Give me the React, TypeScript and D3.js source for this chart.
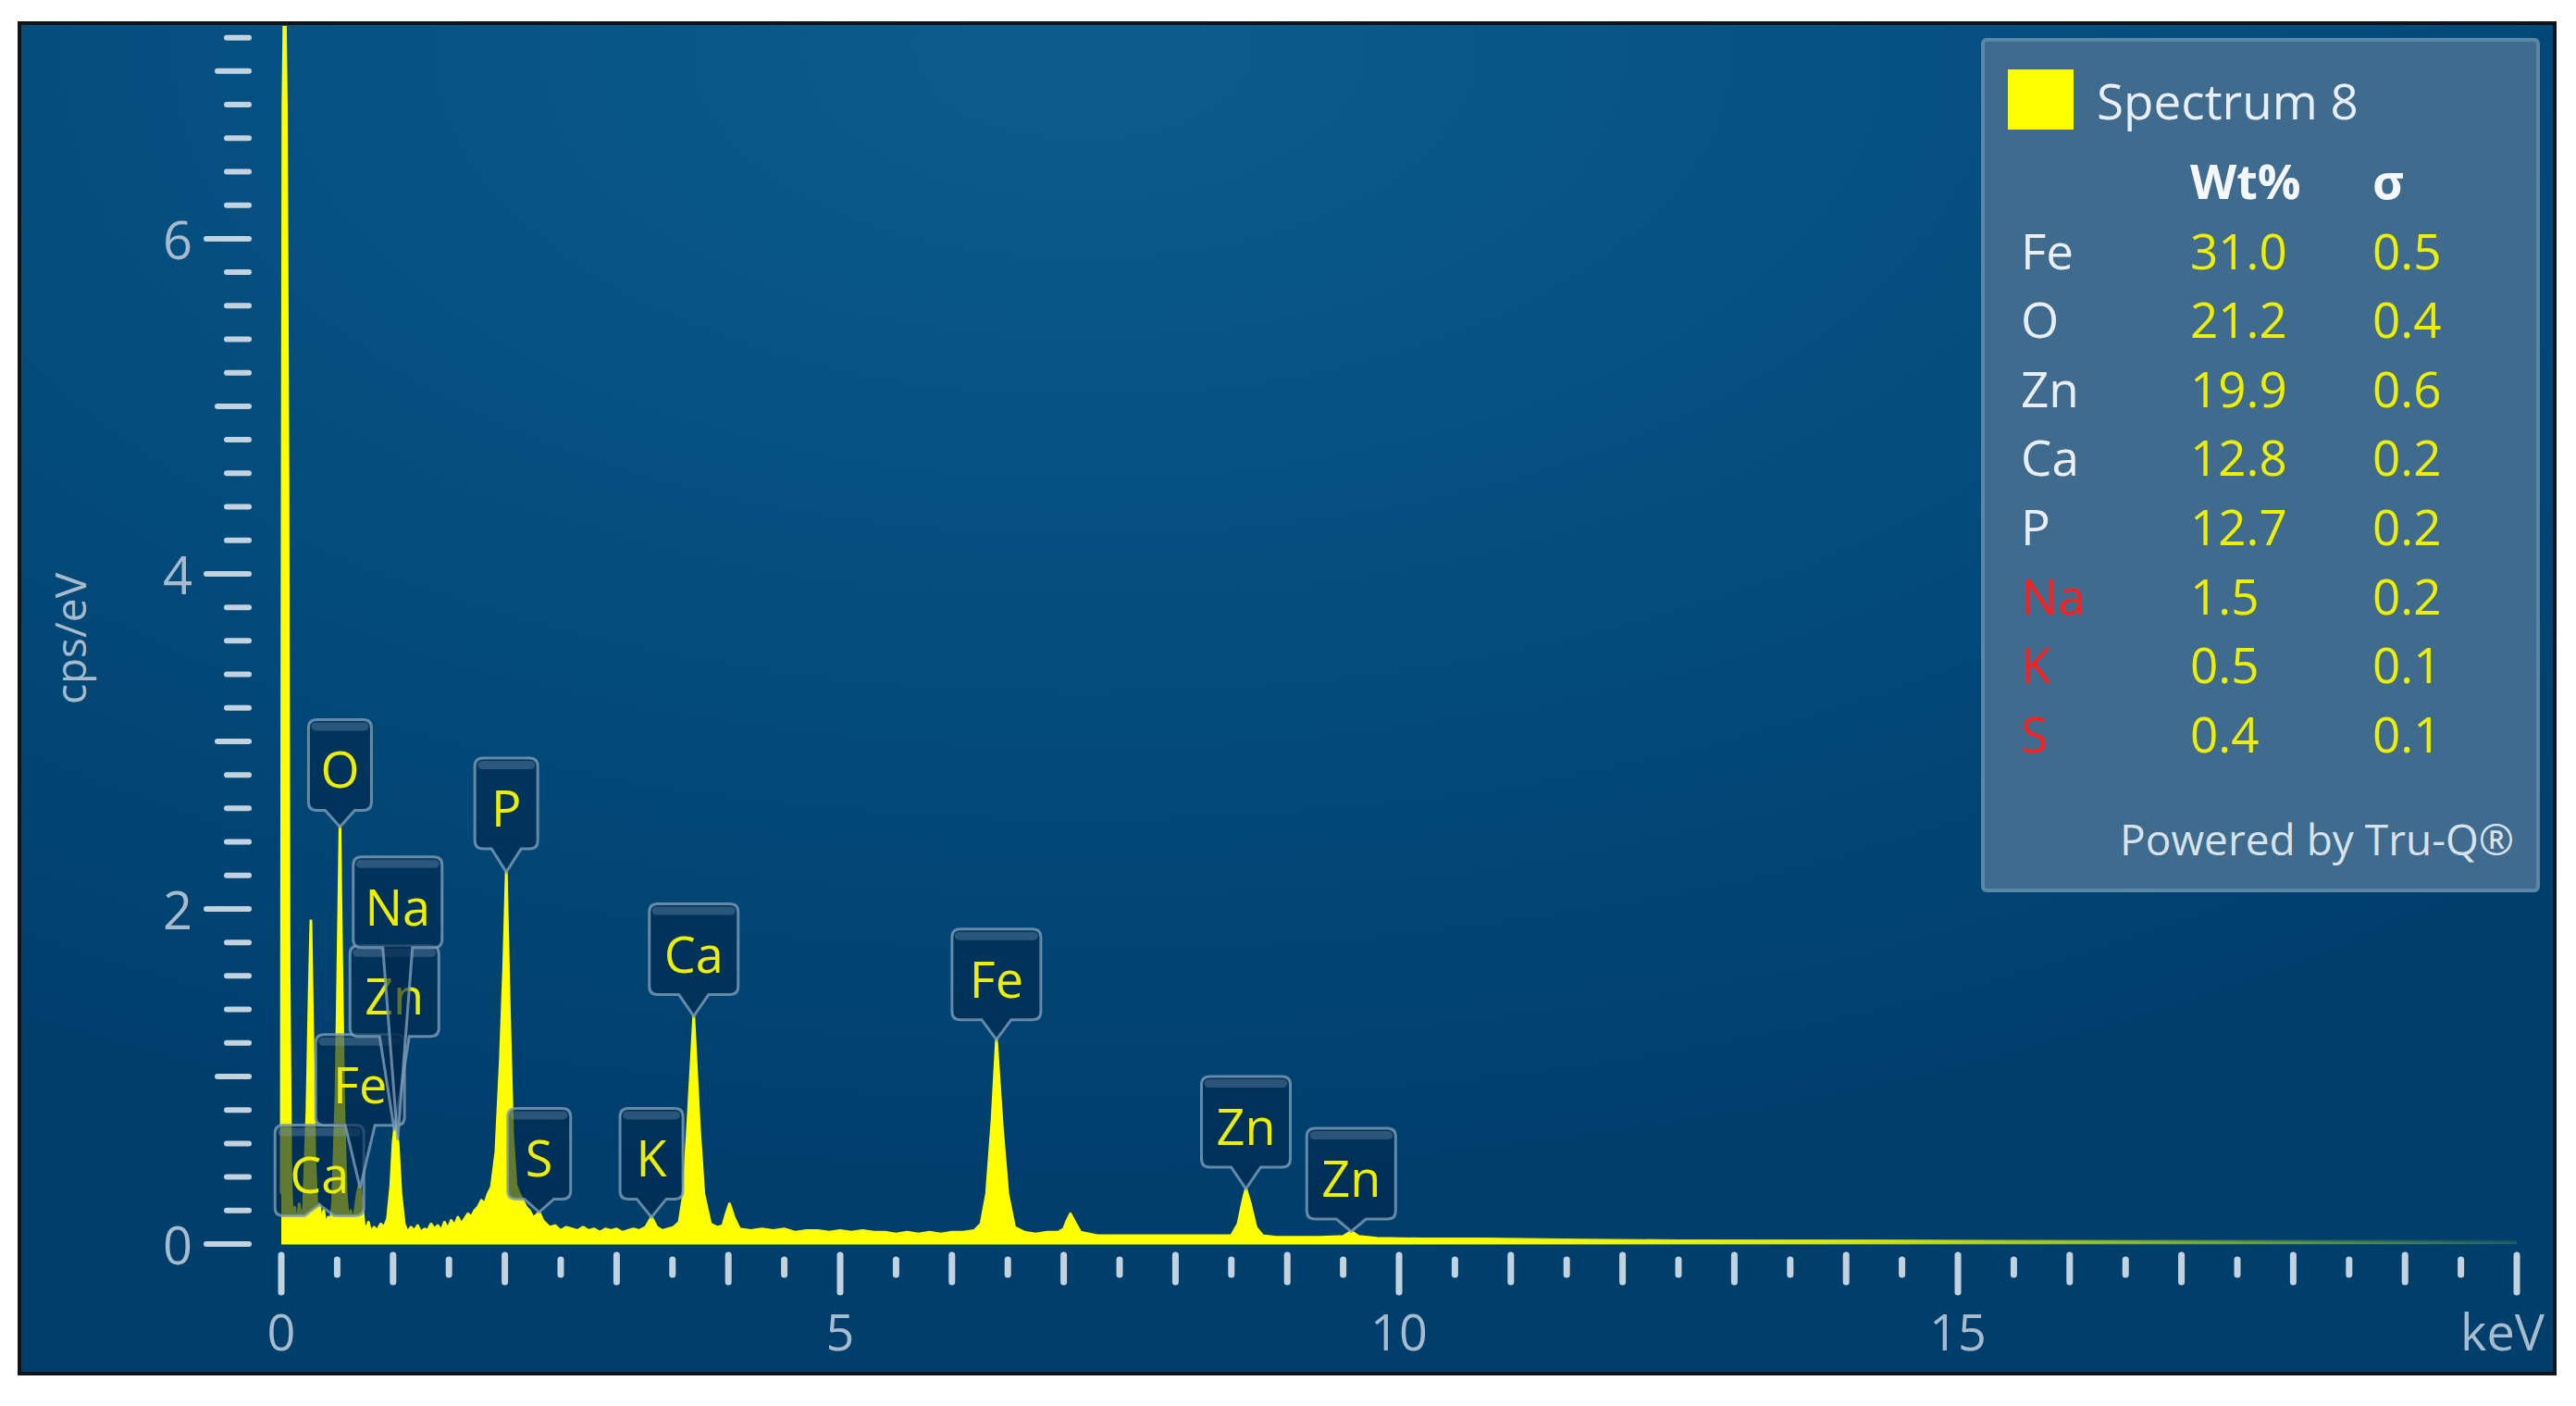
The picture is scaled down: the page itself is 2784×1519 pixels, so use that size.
import React from 'react';
import * as d3 from 'd3';

// EDS spectrum: [keV, cps/eV]
const spectrum: [number, number][] = [
  [0.0, 0.3], [0.005, 3.0], [0.015, 6.8], [0.03, 7.6], [0.045, 6.8], [0.06, 4.5], [0.07, 1.6], [0.085, 0.4],
  [0.1, 0.12], [0.12, 0.22], [0.14, 0.1], [0.16, 0.24], [0.18, 0.14],
  [0.2, 0.22], [0.23, 0.8], [0.25, 1.5], [0.265, 1.93], [0.28, 1.3], [0.3, 0.5], [0.32, 0.2],
  [0.34, 0.24], [0.36, 0.12], [0.38, 0.2], [0.4, 0.1], [0.42, 0.16], [0.44, 0.12],
  [0.46, 0.25], [0.49, 0.9], [0.51, 1.8], [0.525, 2.49], [0.54, 1.7], [0.56, 0.8], [0.58, 0.3],
  [0.6, 0.14], [0.62, 0.2], [0.64, 0.12], [0.66, 0.2], [0.68, 0.3], [0.7, 0.36], [0.72, 0.26],
  [0.74, 0.12], [0.76, 0.08], [0.78, 0.13], [0.8, 0.07], [0.83, 0.1], [0.86, 0.08], [0.89, 0.12], [0.92, 0.1],
  [0.95, 0.15], [0.98, 0.35], [1.0, 0.6], [1.02, 0.73], [1.045, 0.6], [1.07, 0.3], [1.1, 0.12],
  [1.13, 0.07], [1.16, 0.1], [1.19, 0.08], [1.22, 0.11], [1.25, 0.07], [1.28, 0.09], [1.31, 0.08],
  [1.34, 0.12], [1.37, 0.09], [1.4, 0.11], [1.43, 0.08], [1.46, 0.13], [1.49, 0.09], [1.52, 0.14],
  [1.55, 0.11], [1.58, 0.16], [1.61, 0.12], [1.64, 0.15], [1.67, 0.18], [1.7, 0.16], [1.73, 0.2],
  [1.76, 0.22], [1.79, 0.26], [1.82, 0.24], [1.85, 0.3], [1.88, 0.34],
  [1.92, 0.55], [1.96, 1.1], [1.99, 1.65], [2.013, 2.22], [2.04, 1.4], [2.07, 0.65], [2.1, 0.35],
  [2.13, 0.3], [2.16, 0.26], [2.19, 0.22], [2.22, 0.2], [2.25, 0.16], [2.28, 0.17], [2.307, 0.19],
  [2.34, 0.14], [2.37, 0.12], [2.4, 0.1], [2.45, 0.11], [2.5, 0.08], [2.55, 0.1], [2.6, 0.09],
  [2.65, 0.08], [2.7, 0.1], [2.75, 0.08], [2.8, 0.09], [2.85, 0.07], [2.9, 0.09], [2.95, 0.08],
  [3.0, 0.09], [3.05, 0.07], [3.1, 0.08], [3.15, 0.09], [3.2, 0.08],
  [3.26, 0.1], [3.312, 0.16], [3.36, 0.1], [3.41, 0.08], [3.46, 0.09], [3.51, 0.1],
  [3.56, 0.13], [3.6, 0.3], [3.64, 0.75], [3.69, 1.36], [3.74, 0.7], [3.78, 0.3], [3.84, 0.12], [3.9, 0.1],
  [3.95, 0.11], [3.98, 0.18], [4.01, 0.24], [4.05, 0.16], [4.1, 0.09],
  [4.2, 0.08], [4.3, 0.09], [4.4, 0.08], [4.5, 0.09], [4.6, 0.07], [4.7, 0.08], [4.8, 0.08], [4.9, 0.07],
  [5.0, 0.08], [5.1, 0.07], [5.2, 0.08], [5.3, 0.07], [5.4, 0.07], [5.5, 0.06], [5.6, 0.07], [5.7, 0.06],
  [5.8, 0.07], [5.9, 0.06], [6.0, 0.07], [6.1, 0.07], [6.2, 0.08],
  [6.26, 0.12], [6.31, 0.3], [6.36, 0.75], [6.398, 1.22], [6.45, 0.7], [6.5, 0.3], [6.56, 0.1],
  [6.65, 0.07], [6.75, 0.06], [6.85, 0.07], [6.95, 0.07],
  [7.0, 0.09], [7.03, 0.14], [7.06, 0.18], [7.1, 0.13], [7.15, 0.07],
  [7.3, 0.05], [7.5, 0.05], [7.7, 0.05], [7.9, 0.05], [8.1, 0.05], [8.3, 0.05],
  [8.5, 0.05], [8.56, 0.12], [8.6, 0.25], [8.63, 0.33], [8.67, 0.24], [8.72, 0.1], [8.78, 0.05],
  [8.9, 0.04], [9.1, 0.04], [9.3, 0.04],
  [9.5, 0.045], [9.572, 0.075], [9.64, 0.045],
  [9.8, 0.035], [10.2, 0.03], [10.8, 0.03], [11.5, 0.025], [12.5, 0.02], [14, 0.02], [15.5, 0.015],
  [17, 0.012], [18.5, 0.01], [20, 0.008],
];

// peak markers: element, line energy (keV), height of label top (cps/eV)
const peakElements = ['O', 'Ca', 'Fe', 'Zn', 'Na', 'P', 'S', 'K', 'Ca', 'Fe', 'Zn', 'Zn'];
const peakEnergies = [0.525, 0.341, 0.705, 1.012, 1.041, 2.013, 2.307, 3.312, 3.69, 6.398, 8.63, 9.572];
const peakLabelTops = [3.13, 0.71, 1.25, 1.78, 2.31, 2.9, 0.81, 0.81, 2.03, 1.88, 1.0, 0.69];

// quant table
const quantElements = ['Fe', 'O', 'Zn', 'Ca', 'P', 'Na', 'K', 'S'];
const quantWt = ['31.0', '21.2', '19.9', '12.8', '12.7', '1.5', '0.5', '0.4'];
const quantSigma = ['0.5', '0.4', '0.6', '0.2', '0.2', '0.2', '0.1', '0.1'];
const quantFlagged = [false, false, false, false, false, true, true, true];

const xTickLabels = [0, 5, 10, 15];
const yTickLabels = [0, 2, 4, 6];

const W = 2784;
const H = 1519;
const FONT = '"Open Sans", "Noto Sans", sans-serif';
const AXIS_TEXT = '#a6bbce';
const TICK = '#c3d2df';

const x = d3.scaleLinear().domain([0, 20]).range([304, 2720]);
const y = d3.scaleLinear().domain([0, 7.27]).range([1344, 28]);

const bis = d3.bisector((d: [number, number]) => d[0]).left;
const valueAt = (e: number) => {
  const i = bis(spectrum, e);
  if (i <= 0) return spectrum[0][1];
  if (i >= spectrum.length) return spectrum[spectrum.length - 1][1];
  const [x0, y0] = spectrum[i - 1];
  const [x1, y1] = spectrum[i];
  return y0 + ((e - x0) / (x1 - x0)) * (y1 - y0);
};

const labelPath = (cx: number, top: number, w: number, h: number, tx: number, ty: number) => {
  const r = 9;
  const l = cx - w / 2;
  const rt = cx + w / 2;
  const b = top + h;
  const pw = 16;
  return `M${l + r},${top} H${rt - r} Q${rt},${top} ${rt},${top + r} V${b - r} Q${rt},${b} ${rt - r},${b}
    H${cx + pw} L${tx},${ty} L${cx - pw},${b} H${l + r} Q${l},${b} ${l},${b - r} V${top + r} Q${l},${top} ${l + r},${top} Z`;
};

export default function App() {
  const area = d3.area<[number, number]>()
    .x((d) => x(d[0]))
    .y0(y(0))
    .y1((d) => y(d[1]));
  const line = d3.line<[number, number]>()
    .x((d) => x(d[0]))
    .y((d) => y(d[1]));

  const yTicks = d3.ticks(0, 7.2, 36);
  const xTicks = d3.ticks(0, 20, 40);

  return (
    <svg width={W} height={H} style={{ position: 'absolute', left: 0, top: 0, background: '#fff' }} fontFamily={FONT}>
      <defs>
        <radialGradient id="bg" cx="0.42" cy="0.02" r="0.85" gradientUnits="objectBoundingBox">
          <stop offset="0" stopColor="#0b5c8d" />
          <stop offset="0.55" stopColor="#034c7c" />
          <stop offset="1" stopColor="#003e6c" />
        </radialGradient>
        <linearGradient id="tail" gradientUnits="userSpaceOnUse" x1={x(0)} x2={x(20)} y1="0" y2="0">
          <stop offset="0" stopColor="#ffff00" stopOpacity="1" />
          <stop offset="0.5" stopColor="#ffff00" stopOpacity="1" />
          <stop offset="0.7" stopColor="#e6f000" stopOpacity="0.7" />
          <stop offset="0.88" stopColor="#9fcf20" stopOpacity="0.35" />
          <stop offset="1" stopColor="#80c040" stopOpacity="0.1" />
        </linearGradient>
        <clipPath id="plot">
          <rect x={0} y={28} width={2755} height={1330} />
        </clipPath>
      </defs>

      <rect x={21} y={25} width={2740} height={1459} fill="url(#bg)" stroke="#101418" strokeWidth={4} />

      {/* y axis */}
      {yTicks.map((t) => {
        const labelled = yTickLabels.some((v) => Math.abs(v - t) < 1e-6);
        const integer = Math.abs(t - Math.round(t)) < 1e-6;
        const x0 = labelled ? 223 : integer ? 235 : 245;
        return (
          <line key={'yt' + t} x1={x0} x2={269} y1={y(t)} y2={y(t)} stroke={TICK} strokeWidth={6} strokeLinecap="round" />
        );
      })}
      {yTickLabels.map((v) => (
        <text key={'yl' + v} x={208} y={y(v)} textAnchor="end" dominantBaseline="central" fontSize={56} fill={AXIS_TEXT}>
          {v}
        </text>
      ))}
      <text transform="translate(75,690) rotate(-90)" textAnchor="middle" dominantBaseline="central" fontSize={46} fill={AXIS_TEXT}>
        cps/eV
      </text>

      {/* x axis */}
      {xTicks.map((t) => {
        const five = Math.abs(t % 5) < 1e-6;
        const integer = Math.abs(t - Math.round(t)) < 1e-6;
        const y0 = integer ? 1356 : 1361;
        const y1 = five ? 1396 : integer ? 1385 : 1377;
        return (
          <line key={'xt' + t} x1={x(t)} x2={x(t)} y1={y0} y2={y1} stroke={TICK} strokeWidth={7} strokeLinecap="round" />
        );
      })}
      {xTickLabels.map((v) => (
        <text key={'xl' + v} x={x(v)} y={1438} textAnchor="middle" dominantBaseline="central" fontSize={54} fill={AXIS_TEXT}>
          {v}
        </text>
      ))}
      <text x={2750} y={1438} textAnchor="end" dominantBaseline="central" fontSize={54} fill={AXIS_TEXT}>
        keV
      </text>

      {/* spectrum */}
      <g clipPath="url(#plot)">
        <path d={area(spectrum) ?? ''} fill="url(#tail)" />
        <path d={line(spectrum) ?? ''} fill="none" stroke="url(#tail)" strokeWidth={3} strokeLinejoin="round" />
        <line x1={x(0)} x2={x(20)} y1={y(0) - 2} y2={y(0) - 2} stroke="url(#tail)" strokeWidth={5} />
      </g>

      {/* peak labels */}
      {peakElements.map((el, i) => {
        const e = peakEnergies[i];
        const cx = x(e);
        const top = y(peakLabelTops[i]);
        const w = 40 + 28 * el.length;
        const h = 98;
        const tipY = y(valueAt(e));
        return (
          <g key={'pk' + i}>
            <path d={labelPath(cx, top, w, h, cx, tipY)} fill="#00294c" fillOpacity={0.62} stroke="#7d9db8" strokeOpacity={0.8} strokeWidth={3} />
            <rect x={cx - w / 2 + 3} y={top + 3} width={w - 6} height={9} rx={5} fill="#8aa9c2" fillOpacity={0.3} />
            <text x={cx} y={top + h / 2 + 4} textAnchor="middle" dominantBaseline="central" fontSize={54} fill="#eeee00">
              {el}
            </text>
          </g>
        );
      })}

      {/* legend / quant table */}
      <rect x={2143} y={43} width={600} height={919} rx={4} fill="#3e6b8e" stroke="#5a86a8" strokeWidth={4} />
      <rect x={2170} y={75} width={71} height={65} fill="#ffff00" />
      <text x={2266} y={108} dominantBaseline="central" fontSize={53} fill="#e8eef3">
        Spectrum 8
      </text>
      <text x={2367} y={194} dominantBaseline="central" fontSize={52} fontWeight="bold" fill="#f4f7fa">
        Wt%
      </text>
      <text x={2564} y={194} dominantBaseline="central" fontSize={52} fontWeight="bold" fill="#f4f7fa">
        σ
      </text>
      {quantElements.map((el, i) => {
        const ry = 270 + i * 74.6;
        return (
          <g key={'q' + i}>
            <text x={2184} y={ry} dominantBaseline="central" fontSize={53} fill={quantFlagged[i] ? '#ff1f1f' : '#e8eef3'}>
              {el}
            </text>
            <text x={2367} y={ry} dominantBaseline="central" fontSize={53} fill="#eeee00">
              {quantWt[i]}
            </text>
            <text x={2564} y={ry} dominantBaseline="central" fontSize={53} fill="#eeee00">
              {quantSigma[i]}
            </text>
          </g>
        );
      })}
      <text x={2717} y={906} textAnchor="end" dominantBaseline="central" fontSize={46} fill="#d8e2ea">
        Powered by Tru-Q®
      </text>
    </svg>
  );
}
